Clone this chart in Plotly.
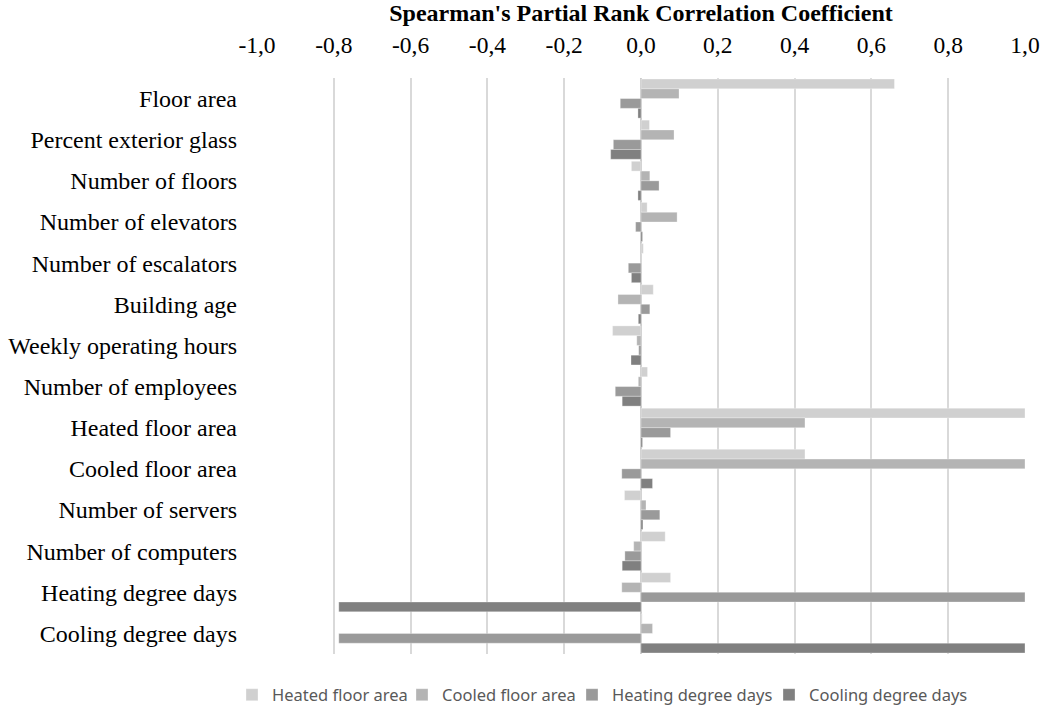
import plotly.graph_objects as go

categories = ["Floor area", "Percent exterior glass", "Number of floors", "Number of elevators",
              "Number of escalators", "Building age", "Weekly operating hours", "Number of employees",
              "Heated floor area", "Cooled floor area", "Number of servers", "Number of computers",
              "Heating degree days", "Cooling degree days"]

heated_floor_area = [0.66, 0.022, -0.025, 0.016, 0.006, 0.032, -0.074, 0.017,
                     1.0, 0.427, -0.043, 0.063, 0.077, 0.003]
cooled_floor_area = [0.099, 0.086, 0.023, 0.094, 0.001, -0.06, -0.011, -0.007,
                     0.427, 1.0, 0.013, -0.019, -0.05, 0.03]
heating_degree_days = [-0.054, -0.072, 0.047, -0.014, -0.033, 0.023, -0.006, -0.067,
                       0.077, -0.05, 0.049, -0.042, 1.0, -0.787]
cooling_degree_days = [-0.008, -0.079, -0.008, 0.004, -0.025, -0.007, -0.026, -0.049,
                       0.004, 0.03, 0.005, -0.049, -0.787, 1.0]

tick_values = [-1.0, -0.8, -0.6, -0.4, -0.2, 0.0, 0.2, 0.4, 0.6, 0.8, 1.0]
tick_labels = ["-1,0", "-0,8", "-0,6", "-0,4", "-0,2", "0,0", "0,2", "0,4", "0,6", "0,8", "1,0"]

series = [
    ("Heated floor area", heated_floor_area, "#d0d0d0"),
    ("Cooled floor area", cooled_floor_area, "#b4b4b4"),
    ("Heating degree days", heating_degree_days, "#9a9a9a"),
    ("Cooling degree days", cooling_degree_days, "#808080"),
]

# legend text start positions (page pixels) for each series
legend_text_x = [272, 442, 612, 809]
W, H = 1045, 708
ML, MR, MT, MB = 257, 20, 78, 54
PLOT_W = W - ML - MR
PLOT_H = H - MT - MB

fig = go.Figure()
legend_layouts = {}
for i, (name, vals, col) in enumerate(series):
    lg = "legend" if i == 0 else f"legend{i+1}"
    fig.add_trace(go.Bar(
        y=categories, x=vals, name=name, orientation="h", legend=lg,
        marker=dict(color=col, line=dict(color="rgba(255,255,255,0.6)", width=0.5)),
    ))
    legend_layouts[lg] = dict(
        orientation="h", x=(legend_text_x[i] - 40 - ML) / PLOT_W, xanchor="left",
        y=-41 / PLOT_H, yanchor="middle", bgcolor="rgba(0,0,0,0)",
        font=dict(family="Noto Sans", size=16.5, color="#595959"), itemwidth=30,
    )

serif = "Liberation Serif"
fig.update_layout(
    width=W, height=H,
    paper_bgcolor="white", plot_bgcolor="white",
    barmode="group", bargap=0.05, bargroupgap=0,
    margin=dict(l=ML, r=MR, t=MT, b=MB, autoexpand=False),
    showlegend=True,
    xaxis=dict(
        side="top", range=[-1, 1], tickvals=tick_values, ticktext=tick_labels,
        showgrid=True, gridcolor="#d9d9d9", gridwidth=1.5,
        zeroline=True, zerolinecolor="#cccccc", zerolinewidth=2,
        showline=False, ticks="", automargin=False, ticklabelstandoff=19,
        ticklabeloverflow="allow",
        tickfont=dict(family=serif, size=23.5, color="#000000"),
        title=dict(text="<b>Spearman's Partial Rank Correlation Coefficient</b>",
                   font=dict(family=serif, size=24, color="#000000"),
                   standoff=5),
        fixedrange=True,
    ),
    yaxis=dict(
        autorange="reversed", showgrid=False, zeroline=False, showline=False,
        ticks="", ticklabelstandoff=19, automargin=False,
        tickfont=dict(family=serif, size=24, color="#000000"),
    ),
    **legend_layouts,
)

fig.write_html(
    "out.html",
    config={"displayModeBar": False},
    post_script="document.body.style.margin='0';document.body.style.overflow='hidden';",
)
